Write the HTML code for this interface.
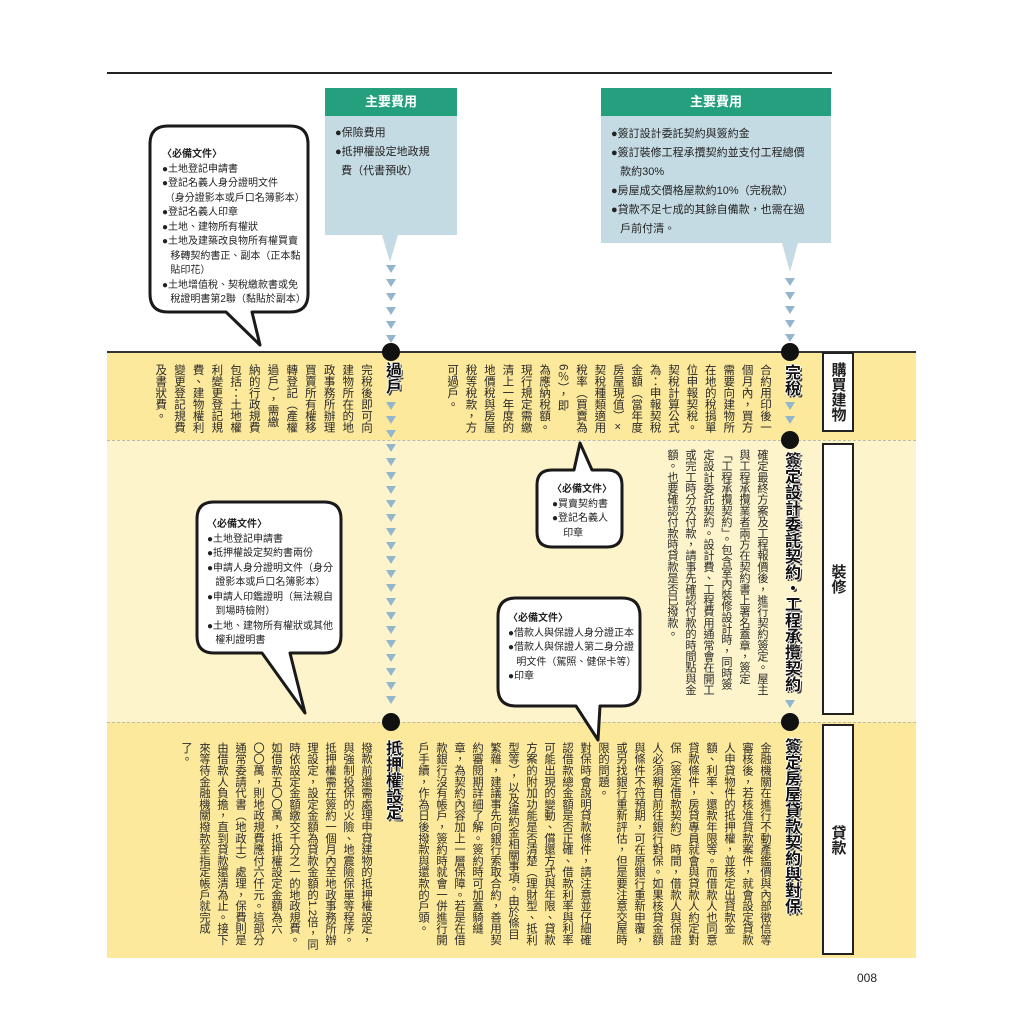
<!DOCTYPE html>
<html><head><meta charset="utf-8">
<style>
body{margin:0;width:1024px;height:1024px;background:#fff;position:relative;overflow:hidden;font-family:"Liberation Sans","Noto Sans CJK TC",sans-serif;color:#222}
.a{position:absolute}
.v{position:absolute;writing-mode:vertical-rl;font-size:11.5px;line-height:18px;white-space:nowrap;color:#2a2a2a}
.h{position:absolute;writing-mode:vertical-rl;font-size:16px;font-weight:bold;color:#111;line-height:20px;white-space:nowrap;
 text-shadow:1px 0 #fff,-1px 0 #fff,0 1px #fff,0 -1px #fff,2px 2px #444}
.bt{position:absolute;font-size:10px;line-height:14.5px;color:#222}
.lab{position:absolute;border:2px solid #222;background:#fff;box-sizing:border-box;font-size:15px;font-weight:bold;writing-mode:vertical-rl;display:flex;align-items:center;justify-content:center;line-height:17px}
.box .hd{background:#25a07f;color:#fff;font-weight:bold;font-size:13px;text-align:center;height:28px;line-height:28px}
.box .bd{background:#c5dbe3;font-size:11px;line-height:19px;padding:8px 10px;box-sizing:border-box}
</style></head><body>
<div class="a" style="left:107px;top:352px;width:809px;height:88px;background:#fde99c"></div>
<div class="a" style="left:107px;top:440px;width:809px;height:282px;background:#fdf4cc"></div>
<div class="a" style="left:107px;top:722px;width:809px;height:236px;background:#fde99c"></div>
<div class="a" style="left:107px;top:72px;width:725px;height:2px;background:#222"></div>
<div class="a" style="left:107px;top:351px;width:809px;height:2px;background:#333"></div>
<div class="a" style="left:107px;top:440px;width:809px;height:1px;border-top:1px dashed #bba"></div>
<div class="a" style="left:107px;top:722px;width:809px;height:1px;border-top:1px dashed #bba"></div>

<svg class="a" style="left:0;top:0" width="1024" height="1024">
 <g fill="#c5dbe3">
  <polygon points="382,235 398,235 390,262"/>
  <polygon points="782,243 798,243 790,272"/>
 </g>
 <g fill="#fff" stroke="#1a1a1a" stroke-width="3" stroke-linejoin="round">
  <path d="M168,126 H290 Q308,126 308,144 V294 Q308,312 290,312 H252 L260,345 L226,312 H168 Q150,312 150,294 V144 Q150,126 168,126 Z"/>
  <path d="M552,470 H574 L580,443 L592,470 H607 Q622,470 622,485 V532 Q622,547 607,547 H552 Q537,547 537,532 V485 Q537,470 552,470 Z"/>
  <path d="M516,598 H622 Q640,598 640,616 V688 Q640,706 622,706 H600 L598,740 L576,706 H516 Q498,706 498,688 V616 Q498,598 516,598 Z"/>
  <path d="M214,502 H324 Q341,502 341,519 V636 Q341,653 324,653 H290 L305,713 L262,653 H214 Q197,653 197,636 V519 Q197,502 214,502 Z"/>
 </g>
 <g fill="#111">
  <circle cx="391" cy="352" r="9"/><circle cx="790" cy="352" r="9"/>
  <circle cx="790" cy="440" r="9"/><circle cx="391" cy="722" r="9"/><circle cx="790" cy="722" r="9"/>
 </g>
 <g fill="#94b6cc">
  <polygon points="386,265 396,265 391,273"/><polygon points="386,279 396,279 391,287"/><polygon points="386,293 396,293 391,301"/><polygon points="386,307 396,307 391,315"/><polygon points="386,321 396,321 391,329"/><polygon points="386,335 396,335 391,343"/>
  <polygon points="386,402 396,402 391,410"/><polygon points="386,416 396,416 391,424"/><polygon points="386,430 396,430 391,438"/><polygon points="386,444 396,444 391,452"/><polygon points="386,458 396,458 391,466"/><polygon points="386,472 396,472 391,480"/><polygon points="386,486 396,486 391,494"/><polygon points="386,500 396,500 391,508"/><polygon points="386,514 396,514 391,522"/><polygon points="386,528 396,528 391,536"/><polygon points="386,542 396,542 391,550"/><polygon points="386,556 396,556 391,564"/><polygon points="386,570 396,570 391,578"/><polygon points="386,584 396,584 391,592"/><polygon points="386,598 396,598 391,606"/><polygon points="386,612 396,612 391,620"/><polygon points="386,626 396,626 391,634"/><polygon points="386,640 396,640 391,648"/><polygon points="386,654 396,654 391,662"/><polygon points="386,668 396,668 391,676"/><polygon points="386,682 396,682 391,690"/><polygon points="386,696 396,696 391,704"/>
  <polygon points="785,278 795,278 790,286"/><polygon points="785,292 795,292 790,300"/><polygon points="785,306 795,306 790,314"/><polygon points="785,320 795,320 790,328"/><polygon points="785,334 795,334 790,342"/>
  <polygon points="785,402 795,402 790,410"/><polygon points="785,416 795,416 790,424"/>
  <polygon points="785,700 795,700 790,708"/>
 </g>
</svg>

<div class="a box" style="left:325px;top:88px;width:132px">
 <div class="hd">主要費用</div>
 <div class="bd" style="height:119px">●保險費用<br>●抵押權設定地政規<br>&nbsp;&nbsp;費（代書預收）</div>
</div>
<div class="a box" style="left:601px;top:88px;width:230px">
 <div class="hd">主要費用</div>
 <div class="bd" style="height:127px;padding-top:9px">●簽訂設計委託契約與簽約金<br>●簽訂裝修工程承攬契約並支付工程總價<br>&nbsp;&nbsp;&nbsp;款約30%<br>●房屋成交價格屋款約10%（完稅款）<br>●貸款不足七成的其餘自備款，也需在過<br>&nbsp;&nbsp;&nbsp;戶前付清。</div>
</div>

<div class="bt" style="left:162px;top:148px"><b>〈必備文件〉</b><br>●土地登記申請書<br>●登記名義人身分證明文件<br>&nbsp;（身分證影本或戶口名簿影本）<br>●登記名義人印章<br>●土地、建物所有權狀<br>●土地及建築改良物所有權買賣<br>&nbsp;&nbsp;&nbsp;移轉契約書正、副本（正本黏<br>&nbsp;&nbsp;&nbsp;貼印花）<br>●土地增值稅、契稅繳款書或免<br>&nbsp;&nbsp;&nbsp;稅證明書第2聯（黏貼於副本）</div>
<div class="bt" style="left:552px;top:483px"><b>〈必備文件〉</b><br>●買賣契約書<br>●登記名義人<br>&nbsp;&nbsp;&nbsp;&nbsp;印章</div>
<div class="bt" style="left:508px;top:612px"><b>〈必備文件〉</b><br>●借款人與保證人身分證正本<br>●借款人與保證人第二身分證<br>&nbsp;&nbsp;&nbsp;明文件（駕照、健保卡等）<br>●印章</div>
<div class="bt" style="left:207px;top:518px"><b>〈必備文件〉</b><br>●土地登記申請書<br>●抵押權設定契約書兩份<br>●申請人身分證明文件（身分<br>&nbsp;&nbsp;&nbsp;證影本或戶口名簿影本）<br>●申請人印鑑證明（無法親自<br>&nbsp;&nbsp;&nbsp;到場時檢附）<br>●土地、建物所有權狀或其他<br>&nbsp;&nbsp;&nbsp;權利證明書</div>

<div class="h" style="left:381px;top:362px">過戶</div>
<div class="h" style="left:780px;top:364px">完稅</div>
<div class="h" style="left:780px;top:452px">簽定設計委託契約・工程承攬契約</div>
<div class="h" style="left:381px;top:740px">抵押權設定</div>
<div class="h" style="left:780px;top:738px">簽定房屋貸款契約與對保</div>

<div class="v" style="right:250px;top:364px;line-height:18.4px">合約用印後一<br>個月內，買方<br>需要向建物所<br>在地的稅捐單<br>位申報契稅。<br>契稅計算公式<br>為：申報契稅<br>金額（當年度<br>房屋現值）×<br>契稅種類適用<br>稅率（買賣為<br>6％），即<br>為應納稅額。<br>現行規定需繳<br>清上一年度的<br>地價稅與房屋<br>稅等稅款，方<br>可過戶。</div>
<div class="v" style="right:649px;top:364px;line-height:18.7px">完稅後即可向<br>建物所在的地<br>政事務所辦理<br>買賣所有權移<br>轉登記（產權<br>過戶），需繳<br>納的行政規費<br>包括：土地權<br>利變更登記規<br>費、建物權利<br>變更登記規費<br>及書狀費。</div>

<div class="v" style="right:253px;top:449px;font-size:11.2px">確定最終方案及工程報價後，進行契約簽定。屋主<br>與工程承攬業者兩方在契約書上署名蓋章，簽定<br>「工程承攬契約」。包含室內裝修設計時，同時簽<br>定設計委託契約。設計費、工程費用通常會在開工<br>或完工時分次付款，請事先確認付款的時間點與金<br>額。也要確認付款時貸款是否已撥款。</div>

<div class="v" style="right:250px;top:742px;font-size:11.3px">金融機關在進行不動產鑑價與內部徵信等<br>審核後，若核准貸款案件，就會設定貸款<br>人申貸物件的抵押權，並核定出貸款金<br>額、利率、還款年限等。而借款人也同意<br>貸款條件，房貸專員就會與貸款人約定對<br>保（簽定借款契約）時間，借款人與保證<br>人必須親自前往銀行對保。如果核貸金額<br>與條件不符預期，可在原銀行重新申覆，<br>或另找銀行重新評估，但是要注意交屋時<br>限的問題。<br>對保時會說明貸款條件，請注意並仔細確<br>認借款總金額是否正確、借款利率與利率<br>可能出現的變動、償還方式與年限、貸款<br>方案的附加功能是否清楚（理財型、抵利<br>型等），以及違約金相關事項。由於條目<br>繁雜，建議事先向銀行索取合約，善用契<br>約審閱期詳細了解。簽約時可加蓋騎縫<br>章，為契約內容加上一層保障。若是在借<br>款銀行沒有帳戶，簽約時就會一併進行開<br>戶手續，作為日後撥款與還款的戶頭。</div>
<div class="v" style="right:649px;top:742px;font-size:11.3px">撥款前還需處理申貸建物的抵押權設定，<br>與強制投保的火險、地震險保單等程序。<br>抵押權需在簽約一個月內至地政事務所辦<br>理設定，設定金額為貸款金額的1.2倍，同<br>時依設定金額繳交千分之一的地政規費。<br>如借款五〇〇萬，抵押權設定金額為六<br>〇〇萬，則地政規費應付六仟元。這部分<br>通常委請代書（地政士）處理，保費則是<br>由借款人負擔，直到貸款還清為止。接下<br>來等待金融機關撥款至指定帳戶就完成<br>了。</div>

<div class="lab" style="left:822px;top:352px;width:32px;height:80px">購買建物</div>
<div class="lab" style="left:822px;top:443px;width:32px;height:272px">裝修</div>
<div class="lab" style="left:822px;top:724px;width:32px;height:231px">貸款</div>

<div class="a" style="left:857px;top:971px;font-size:12px;color:#222">008</div>
</body></html>
